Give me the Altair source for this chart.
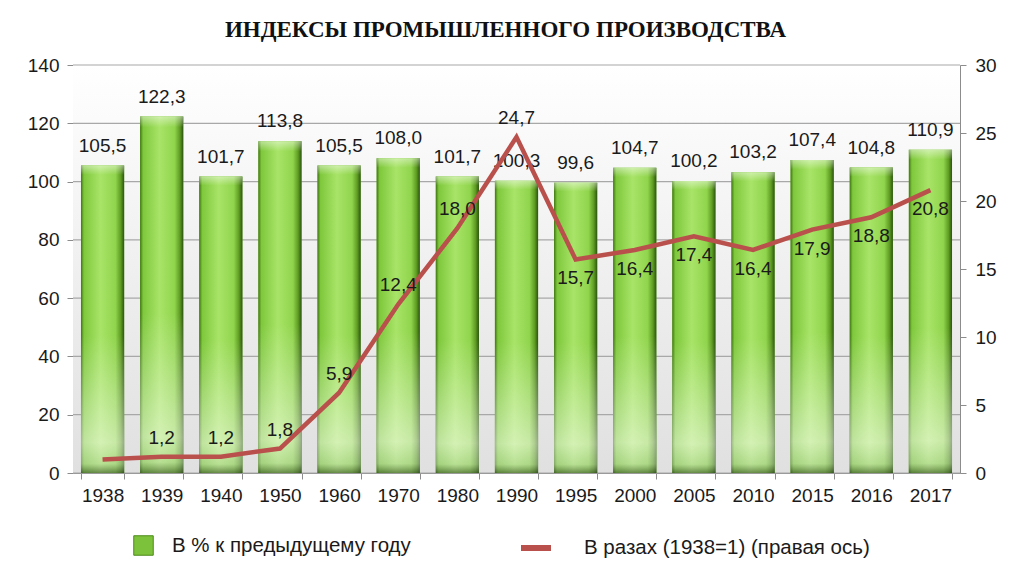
import altair as alt
import pandas as pd

years = ["1938", "1939", "1940", "1950", "1960", "1970", "1980", "1990",
         "1995", "2000", "2005", "2010", "2015", "2016", "2017"]
pct_prev = [105.5, 122.3, 101.7, 113.8, 105.5, 108.0, 101.7, 100.3,
            99.6, 104.7, 100.2, 103.2, 107.4, 104.8, 110.9]
times_1938 = [1.0, 1.2, 1.2, 1.8, 5.9, 12.4, 18.0, 24.7,
              15.7, 16.4, 17.4, 16.4, 17.9, 18.8, 20.8]
line_labels = ["", "1,2", "1,2", "1,8", "5,9", "12,4", "18,0", "24,7",
               "15,7", "16,4", "17,4", "16,4", "17,9", "18,8", "20,8"]
labels_above = ["1939", "1940", "1950", "1960", "1970", "1980", "1990"]
left_ticks = [0, 20, 40, 60, 80, 100, 120, 140]
right_ticks = [0, 5, 10, 15, 20, 25, 30]

bar_name = "В % к предыдущему году"
line_name = "В разах (1938=1) (правая ось)"
title_text = "ИНДЕКСЫ ПРОМЫШЛЕННОГО  ПРОИЗВОДСТВА"

df = pd.DataFrame({
    "year": years,
    "pct": pct_prev,
    "pct_label": [f"{v:.1f}".replace(".", ",") for v in pct_prev],
    "times": times_1938,
    "times_label": line_labels,
    "bar_series": bar_name,
    "line_series": line_name,
})
df["above"] = df["year"].isin(labels_above)
grid_df = pd.DataFrame({"pct": left_ticks})

FONT = "Liberation Sans"
FS = 19
LFS = 20.5

x_enc = alt.X("year:N", sort=years,
              scale=alt.Scale(paddingInner=0.27, paddingOuter=0.135),
              axis=alt.Axis(title=None, labelFontSize=FS, labelColor="#1a1a1a",
                            labelFont=FONT, labelAngle=0, labelPadding=7,
                            tickBand="extent", tickSize=6, tickColor="#8c8c8c",
                            domainColor="#8c8c8c", grid=False))

left_axis = alt.Axis(title=None, values=left_ticks,
                     labelFontSize=FS, labelFont=FONT, labelColor="#1a1a1a",
                     tickSize=6, tickColor="#8c8c8c", domainColor="#8c8c8c",
                     grid=False, labelPadding=8)
y_left = alt.Y("pct:Q", scale=alt.Scale(domain=[0, 140]), axis=left_axis)

base = alt.Chart(df)

bg = alt.Gradient(gradient="linear", x1=0, x2=0, y1=0, y2=1,
                  stops=[alt.GradientStop(offset=0.0, color="#ffffff"),
                         alt.GradientStop(offset=1.0, color="#e0e0e0")])

background = alt.Chart(pd.DataFrame({"k": [0]})).mark_rect(color=bg).encode(
    x=alt.value(0), x2=alt.value("width"), y=alt.value(0), y2=alt.value("height"))

grid = alt.Chart(grid_df).mark_rule(color="#a8a8a8", strokeWidth=1.2).encode(
    y=y_left, x=alt.value(0), x2=alt.value("width"))

bar_grad = alt.Gradient(
    gradient="linear", x1=0, x2=1, y1=0, y2=0,
    stops=[
        alt.GradientStop(offset=0.0, color="#3f7512"),
        alt.GradientStop(offset=0.07, color="#7fc83c"),
        alt.GradientStop(offset=0.45, color="#a8e468"),
        alt.GradientStop(offset=0.8, color="#90d44c"),
        alt.GradientStop(offset=0.92, color="#5e9c22"),
        alt.GradientStop(offset=1.0, color="#2c5410"),
    ])

shade_grad = alt.Gradient(
    gradient="linear", x1=0, x2=0, y1=0, y2=1,
    stops=[
        alt.GradientStop(offset=0.0, color="rgba(255,255,255,0.45)"),
        alt.GradientStop(offset=0.03, color="rgba(255,255,255,0.0)"),
        alt.GradientStop(offset=0.55, color="rgba(255,255,255,0.0)"),
        alt.GradientStop(offset=0.9, color="rgba(255,255,255,0.5)"),
        alt.GradientStop(offset=0.97, color="rgba(200,220,190,0.5)"),
        alt.GradientStop(offset=1.0, color="rgba(60,80,50,0.6)"),
    ])

bars_legend = base.mark_bar().encode(
    x=x_enc, y=y_left,
    color=alt.Color("bar_series:N",
                    scale=alt.Scale(range=["#7cc23a"]),
                    legend=alt.Legend(title=None, orient="none", legendX=60, legendY=470,
                                      symbolType="square", symbolSize=380,
                                      symbolStrokeColor="#4d8a1a", symbolStrokeWidth=1,
                                      labelFontSize=LFS, labelFont=FONT, labelLimit=0,
                                      labelColor="#1a1a1a", labelOffset=18)),
)
bars = base.mark_bar(color=bar_grad).encode(x=x_enc, y=y_left)
bars_shade = base.mark_bar(color=shade_grad).encode(x=x_enc, y=y_left)

bar_text = base.mark_text(dy=-10, fontSize=FS, font=FONT, color="#1a1a1a",
                          baseline="bottom").encode(
    x=x_enc, y=y_left, text="pct_label:N")

y_right = alt.Y("times:Q", scale=alt.Scale(domain=[0, 30]),
                axis=alt.Axis(title=None, orient="right", values=right_ticks,
                              labelFontSize=FS, labelFont=FONT, labelColor="#1a1a1a",
                              tickSize=6, tickColor="#8c8c8c", domainColor="#8c8c8c",
                              grid=False, labelPadding=9))

x_line = alt.X("year:N", sort=years, bandPosition=0.5)

line = base.mark_line(strokeWidth=4.5).encode(
    x=x_line, y=y_right,
    stroke=alt.Stroke("line_series:N",
                      scale=alt.Scale(range=["#b9504c"]),
                      legend=alt.Legend(title=None, orient="none", legendX=445, legendY=465,
                                        symbolType="stroke", symbolSize=900,
                                        symbolStrokeWidth=6, labelLimit=0,
                                        labelFontSize=LFS, labelFont=FONT,
                                        labelColor="#1a1a1a", labelOffset=30)),
)

text_above = base.transform_filter("datum.above").mark_text(
    dy=-9, fontSize=FS, font=FONT, color="#1a1a1a", baseline="bottom").encode(
    x=x_line, y=y_right, text="times_label:N")
text_below = base.transform_filter("!datum.above").mark_text(
    dy=10, fontSize=FS, font=FONT, color="#1a1a1a", baseline="top").encode(
    x=x_line, y=y_right, text="times_label:N")

left_layer = alt.layer(background, grid, bars_legend, bars, bars_shade, bar_text)
right_layer = alt.layer(line, text_above, text_below)

chart = alt.layer(left_layer, right_layer).resolve_scale(y="independent").properties(
    width=887, height=408,
    padding={"left": 65, "top": 57, "right": 50, "bottom": 90},
    autosize=alt.AutoSizeParams(type="none"),
    title=alt.TitleParams(title_text, font="Liberation Serif", fontSize=23,
                          fontWeight="bold", color="#111111", anchor="middle",
                          dx=-11, offset=14),
).configure_view(stroke=None).configure(background="white")

chart.save("out.html", embed_options={"renderer": "svg", "actions": False})
